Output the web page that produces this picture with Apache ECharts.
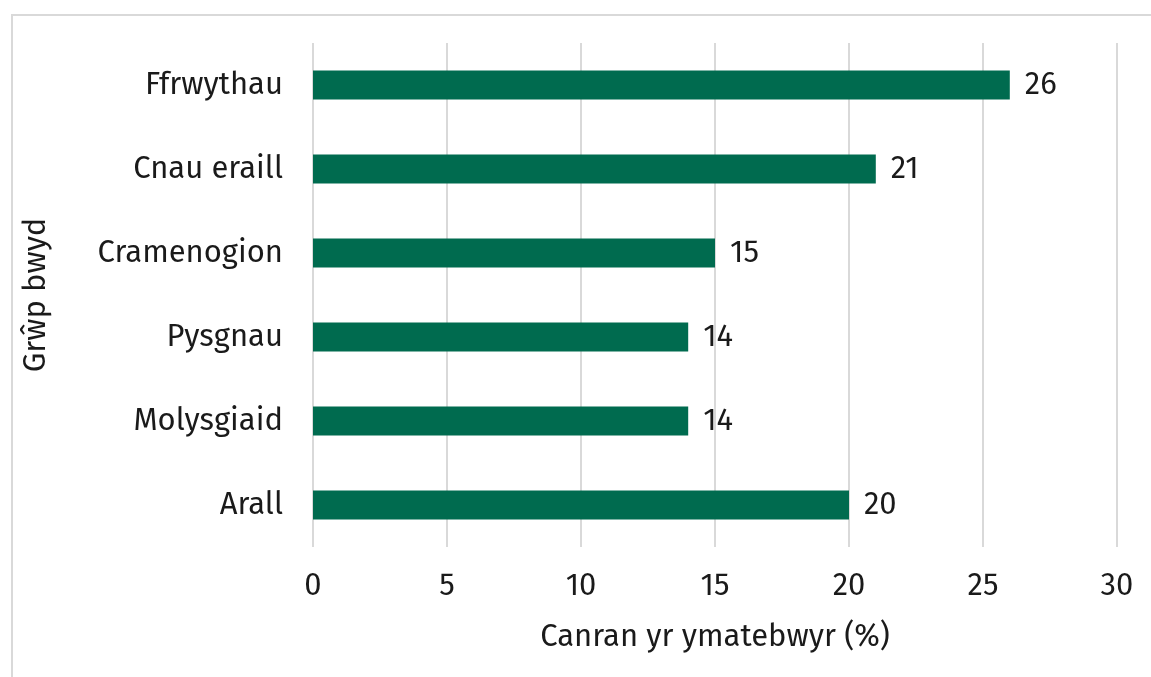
<!DOCTYPE html>
<html>
<head>
<meta charset="utf-8">
<script src="https://cdn.jsdelivr.net/npm/echarts@6/dist/echarts.min.js"></script>
<style>
  html, body { margin: 0; padding: 0; background: #fff; }
  #frame { position: absolute; left: 11px; top: 14px; width: 1150px; height: 680px; border: 2px solid #d9d9d9; box-sizing: border-box; }
  #chart-container { position: absolute; left: 0; top: 0; width: 1151px; height: 677px; }
</style>
</head>
<body>
<div id="frame"></div>
<div id="chart-container"></div>
<script>
const categories = ['Arall', 'Molysgiaid', 'Pysgnau', 'Cramenogion', 'Cnau eraill', 'Ffrwythau'];
const values = [20, 14, 14, 15, 21, 26];
const xTicks = [0, 5, 10, 15, 20, 25, 30];

const fontFamily = '"Fira Sans", "Open Sans", "Noto Sans", sans-serif';
const barColor = '#006b4f';
const fontSize = 31;

var dom = document.getElementById('chart-container');
var myChart = echarts.init(dom, null, { renderer: 'canvas' });

var option = {
  animation: false,
  textStyle: { fontFamily: fontFamily },
  grid: { left: 313, right: 34, top: 43, bottom: 130, containLabel: false },
  xAxis: {
    type: 'value',
    min: xTicks[0],
    max: xTicks[xTicks.length - 1],
    interval: 5,
    name: 'Canran yr ymatebwyr (%)',
    nameLocation: 'middle',
    nameGap: 75,
    nameTextStyle: { fontSize: fontSize, color: '#1a1a1a', fontFamily: fontFamily },
    axisLine: { show: false },
    axisTick: { show: false },
    axisLabel: { fontSize: fontSize, color: '#1a1a1a', margin: 24, fontFamily: fontFamily },
    splitLine: { show: true, lineStyle: { color: '#d9d9d9', width: 2 } }
  },
  yAxis: {
    type: 'category',
    data: categories,
    name: 'Grŵp bwyd',
    nameLocation: 'middle',
    nameGap: 261,
    nameTextStyle: { fontSize: fontSize, color: '#1a1a1a', fontFamily: fontFamily },
    axisLine: { show: false },
    axisTick: { show: false },
    axisLabel: { fontSize: fontSize, color: '#1a1a1a', margin: 30, fontFamily: fontFamily }
  },
  series: [
    {
      type: 'bar',
      data: values,
      barWidth: 29,
      itemStyle: { color: barColor },
      label: {
        show: true,
        position: 'right',
        distance: 15,
        fontSize: fontSize,
        color: '#1a1a1a',
        fontFamily: fontFamily
      }
    }
  ]
};

myChart.setOption(option);
window.addEventListener('resize', myChart.resize);
</script>
</body>
</html>
